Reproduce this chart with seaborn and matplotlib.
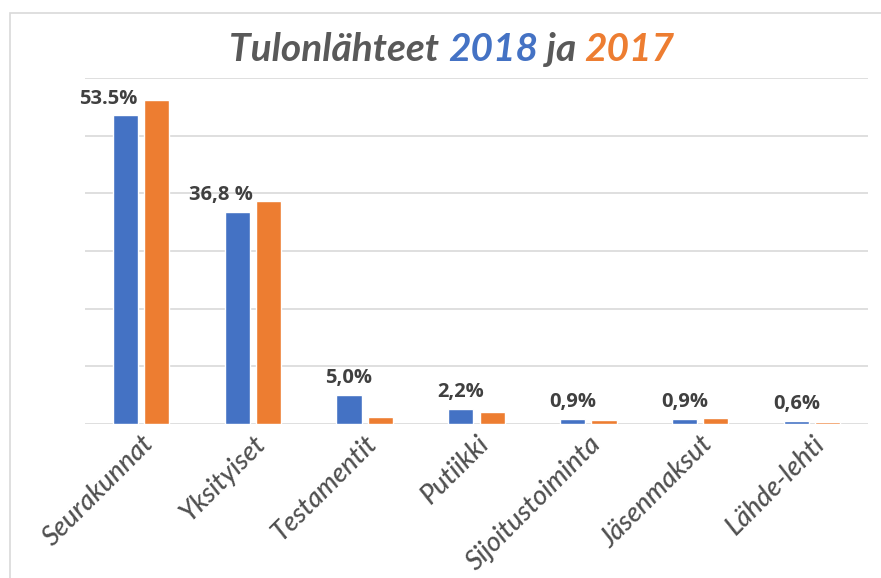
import matplotlib
matplotlib.use('Agg')
import matplotlib.pyplot as plt
import numpy as np
import pandas as pd
import seaborn as sns
from matplotlib.patches import Rectangle

categories = ['Seurakunnat', 'Yksityiset', 'Testamentit', 'Putiikki',
              'Sijoitustoiminta', 'Jäsenmaksut', 'Lähde-lehti']
values_2018 = [53.5, 36.8, 5.0, 2.6, 0.9, 0.9, 0.6]
values_2017 = [56.1, 38.6, 1.2, 2.1, 0.7, 1.0, 0.4]
labels_2018 = ['53.5%', '36,8 %', '5,0%', '2,2%', '0,9%', '0,9%', '0,6%']

blue = '#4472C4'
orange = '#ED7D31'
grey = '#595959'

df = pd.DataFrame({
    'category': categories * 2,
    'year': ['2018'] * len(categories) + ['2017'] * len(categories),
    'value': values_2018 + values_2017,
})

sns.set_style('white')
plt.rcParams['font.family'] = ['Lato', 'DejaVu Sans']

fig = plt.figure(figsize = (8.81, 5.78), dpi = 100)
ax = fig.add_axes([85 / 881, 1 - 424 / 578, 783 / 881, 346 / 578])

sns.barplot(data = df, x = 'category', y = 'value', hue = 'year', hue_order = ['2018', '2017'],
            palette = [blue, orange], saturation = 1, width = 0.56, gap = 0.2, ax = ax, legend = False)

ax.set_ylim(0, 60)
ax.set_xlim(-0.5, len(categories) - 0.5)
ax.set_yticks(np.arange(0, 61, 10))
ax.set_yticklabels([])
ax.tick_params(axis = 'y', length = 0)
ax.tick_params(axis = 'x', length = 0, pad = 5)
ax.yaxis.grid(True, color = '#D9D9D9', linewidth = 1.2)
ax.set_axisbelow(True)
for s in ax.spines.values():
    s.set_visible(False)
ax.set_xlabel('')
ax.set_ylabel('')
ax.set_xticks(range(len(categories)))
ax.set_xticklabels(categories, rotation = 45, ha = 'right', rotation_mode = 'anchor',
                   fontsize = 19.5, fontstyle = 'italic', fontweight = 'medium', color = '#505050')

# value labels on the 2018 bars
for i, (v18, v17, lab) in enumerate(zip(values_2018, values_2017, labels_2018)):
    dx = -12 if v17 > v18 + 1 else 0
    ax.annotate(lab, (i - 0.14, v18), xytext = (dx, 5), textcoords = 'offset points',
                ha = 'center', va = 'bottom', fontsize = 14.5, fontweight = 'bold',
                color = '#404040', family = ['Open Sans', 'DejaVu Sans'])

# title in three colours
fig.canvas.draw()
renderer = fig.canvas.get_renderer()
parts = [('Tulonlähteet ', grey), ('2018', blue), (' ja ', grey), ('2017', orange)]
tkw = dict(fontsize = 28, fontweight = 'bold', fontstyle = 'italic', va = 'baseline')
widths = []
for txt, col in parts:
    t = fig.text(0, 0, txt, **tkw)
    widths.append(t.get_window_extent(renderer).width)
    t.remove()
x = 452 - sum(widths) / 2
for (txt, col), w in zip(parts, widths):
    fig.text(x / 881, 1 - 61 / 578, txt, color = col, **tkw)
    x += w

fig.patches.append(Rectangle((10 / 881, -0.1), 1.2, 1.1 - 13 / 578, transform = fig.transFigure,
                             fill = False, edgecolor = '#D9D9D9', linewidth = 1.2))

fig.savefig('out.png', dpi = 100)
